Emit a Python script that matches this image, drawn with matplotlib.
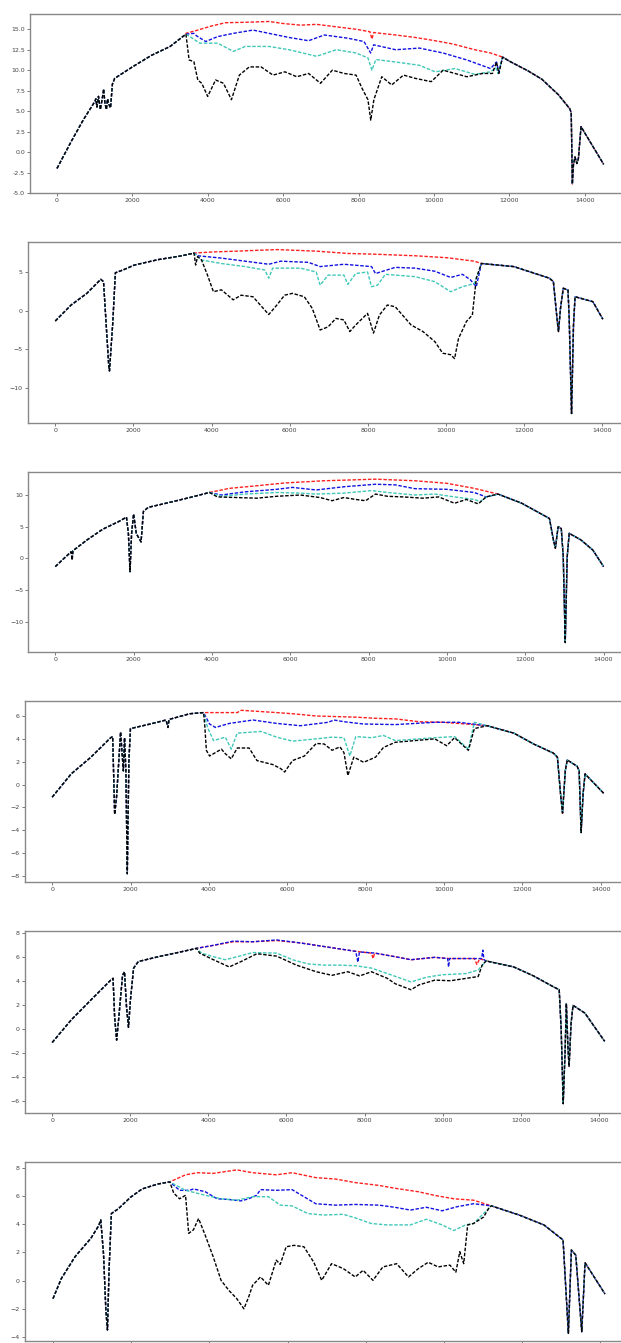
import matplotlib
matplotlib.use("Agg")
import matplotlib.pyplot as plt

# ---------------- panel 1 ----------------
p1_left = [(0, -2.0), (378, 1.3), (693, 3.9), (1007, 6.2), (1030, 6.5), (1060, 5.5), (1100, 6.8),
           (1150, 5.2), (1200, 6.5), (1238, 7.7), (1270, 6.0), (1310, 5.2), (1340, 6.5), (1380, 5.8),
           (1420, 5.4), (1470, 8.3), (1530, 9.0), (2000, 10.4), (2500, 11.8), (3000, 12.9), (3420, 14.4)]
p1_red = [(3420, 14.5), (3735, 14.9), (4100, 15.4), (4470, 15.8), (5000, 15.85), (5624, 15.95), (6000, 15.7),
          (6464, 15.5), (6884, 15.6), (7400, 15.3), (7933, 15.0), (8300, 14.7), (8353, 13.8), (8400, 14.6),
          (8982, 14.3), (9500, 14.0), (10031, 13.6), (10500, 13.2), (11080, 12.5), (11500, 12.1), (11820, 11.6)]
p1_blue = [(3420, 14.4), (3630, 14.5), (3700, 14.2), (3945, 13.5), (4260, 14.1), (4680, 14.5), (5200, 14.9),
           (5624, 14.5), (6150, 14.0), (6674, 13.6), (7094, 14.3), (7723, 13.9), (8143, 13.5), (8320, 12.1),
           (8400, 13.1), (8982, 12.5), (9612, 12.7), (10241, 12.1), (10871, 11.25), (11500, 10.2),
           (11657, 11.0), (11720, 9.8), (11820, 11.6)]
p1_cyan = [(3420, 14.4), (3525, 14.1), (3787, 13.3), (4260, 13.3), (4680, 12.3), (4995, 12.9), (5624, 12.9),
           (6150, 12.5), (6884, 11.7), (7408, 12.5), (7933, 12.1), (8248, 11.5), (8353, 10.0), (8457, 11.3),
           (8982, 11.0), (9612, 10.6), (10031, 9.8), (10556, 10.2), (11080, 9.5), (11500, 9.8),
           (11640, 10.3), (11700, 9.6), (11820, 11.6)]
p1_black = [(3420, 14.4), (3504, 11.25), (3630, 11.05), (3735, 8.8), (3840, 8.4), (3997, 6.8), (4207, 8.8),
            (4416, 8.4), (4627, 6.4), (4837, 9.4), (5100, 10.4), (5414, 10.4), (5730, 9.4), (6045, 9.8),
            (6360, 9.2), (6674, 9.6), (6989, 8.4), (7303, 10.0), (7618, 9.6), (7933, 9.4), (8090, 7.8),
            (8248, 6.4), (8322, 3.9), (8405, 6.4), (8615, 9.2), (8877, 8.2), (9192, 9.4), (9507, 9.0),
            (9927, 8.6), (10241, 10.0), (10871, 9.2), (11290, 9.6), (11552, 9.6), (11657, 11.0),
            (11720, 9.6), (11820, 11.6)]
p1_right = [(11820, 11.6), (12000, 11.1), (12500, 9.9), (12860, 8.9), (13300, 7.0), (13600, 5.3),
            (13640, 4.8), (13670, -3.9), (13700, -1.5), (13740, -0.6), (13790, -1.4), (13830, -0.8),
            (13900, 3.1), (14500, -1.5)]

# ---------------- panel 2 ----------------
p2_left = [(0, -1.34), (405, 0.73), (809, 2.24), (1163, 4.05), (1234, 3.75), (1366, -7.0), (1386, -7.8),
           (1467, -1.85), (1538, 4.9), (1750, 5.3), (2023, 5.9), (2630, 6.6), (3237, 7.1), (3550, 7.45)]
p2_red = [(3550, 7.45), (4046, 7.6), (4653, 7.7), (5665, 7.9), (6676, 7.7), (7485, 7.4), (8193, 7.3),
          (9205, 7.1), (10014, 6.85), (10722, 6.4), (10904, 6.1)]
p2_blue = [(3550, 7.45), (3641, 7.1), (4249, 6.8), (4855, 6.4), (5462, 6.0), (5766, 6.4), (6474, 6.25),
           (6777, 5.7), (7384, 6.0), (8092, 5.7), (8193, 4.8), (8699, 5.6), (9205, 5.5), (9711, 5.1),
           (10116, 4.3), (10419, 4.7), (10621, 4.0), (10773, 3.1), (10904, 6.1)]
p2_cyan = [(3550, 7.45), (3742, 6.55), (4249, 6.1), (4855, 5.7), (5361, 5.26), (5462, 4.2), (5563, 5.5),
           (6271, 5.5), (6676, 5.0), (6777, 3.3), (6979, 4.6), (7384, 4.6), (7485, 3.4), (7687, 4.8),
           (7990, 5.0), (8092, 3.1), (8244, 3.3), (8446, 4.7), (9205, 4.4), (9711, 3.75), (10116, 2.45),
           (10419, 3.1), (10722, 3.5), (10904, 6.1)]
p2_black = [(3550, 7.45), (3591, 5.9), (3641, 7.0), (3742, 6.55), (3894, 4.6), (4046, 2.45), (4249, 2.7),
            (4552, 1.4), (4754, 2.0), (5058, 1.8), (5462, -0.5), (5665, 0.7), (5867, 2.0), (6069, 2.24),
            (6372, 1.8), (6575, 0.3), (6777, -2.5), (6979, -2.1), (7181, -1.0), (7384, -1.2), (7536, -2.7),
            (7687, -1.85), (7990, -0.35), (8142, -2.9), (8294, -0.56), (8497, 0.73), (8699, 0.5),
            (9104, -1.85), (9407, -2.7), (9711, -4.0), (9913, -5.5), (10116, -5.7), (10217, -6.2),
            (10318, -3.6), (10520, -1.4), (10672, -0.56), (10773, 4.2), (10904, 6.1)]
p2_right = [(10904, 6.1), (11734, 5.7), (12644, 4.2), (12745, 3.75), (12846, -1.4), (12876, -2.7),
            (12927, 0.3), (12998, 2.9), (13119, 2.67), (13150, -1.0), (13210, -13.3), (13260, -1.85),
            (13300, 1.8), (13756, 1.16), (14010, -1.1)]

# ---------------- panel 3 ----------------
p3_left = [(0, -1.3), (404, 1.05), (430, -0.26), (450, 1.2), (808, 2.9), (1211, 4.6), (1615, 5.8),
           (1817, 6.5), (1867, 3.9), (1908, -2.1), (1948, 3.9), (1999, 7.0), (2069, 3.9), (2190, 2.6),
           (2250, 7.4), (2372, 8.05), (2826, 8.7), (3432, 9.6), (3937, 10.4)]
p3_red = [(3937, 10.4), (4441, 11.05), (5047, 11.4), (5854, 11.9), (6864, 12.25), (8176, 12.5),
          (9185, 12.25), (9993, 11.85), (10700, 11.05), (11305, 10.15)]
p3_blue = [(3937, 10.4), (4239, 10.0), (4845, 10.5), (5652, 10.9), (6056, 11.2), (6662, 10.8), (7368, 11.3),
           (8176, 11.7), (8680, 11.6), (9185, 11.0), (9993, 10.9), (10700, 10.4), (11002, 9.7), (11305, 10.15)]
p3_cyan = [(3937, 10.4), (4239, 9.8), (4845, 10.15), (5652, 10.4), (6258, 10.3), (6662, 10.15), (7368, 10.3),
           (8075, 10.7), (8479, 10.4), (9185, 10.0), (9690, 10.15), (10195, 9.7), (10700, 9.3),
           (10851, 8.95), (11002, 9.7), (11305, 10.15)]
p3_black = [(3937, 10.4), (4138, 9.7), (4643, 9.6), (5148, 9.5), (5652, 9.8), (6258, 10.0), (6763, 9.6),
            (7066, 9.1), (7368, 9.6), (7671, 9.3), (7923, 9.1), (8176, 10.15), (8479, 9.8), (8882, 9.7),
            (9387, 9.5), (9791, 9.7), (10195, 8.7), (10498, 9.3), (10801, 8.6), (11002, 9.7), (11305, 10.15)]
p3_right = [(11305, 10.15), (11911, 8.7), (12618, 6.3), (12719, 2.9), (12770, 1.6), (12840, 5.0),
            (12921, 4.7), (12971, 0.26), (13022, -13.3), (13072, 0.26), (13123, 3.95), (13426, 2.9),
            (13728, 1.3), (14000, -1.3)]

# ---------------- panel 4 ----------------
p4_left = [(0, -1.1), (484, 0.93), (988, 2.4), (1493, 4.1), (1543, 4.2), (1594, -2.6), (1644, -1.0),
           (1745, 4.6), (1816, 1.2), (1846, 4.1), (1880, 1.2), (1916, -7.8), (1957, 2.1), (1997, 4.9),
           (2501, 5.3), (2905, 5.65), (2955, 5.0), (2980, 5.7), (3510, 6.2), (3863, 6.3)]
p4_red = [(3863, 6.3), (4721, 6.3), (4822, 6.5), (5729, 6.3), (6132, 6.2), (6738, 6.0), (7242, 5.95),
          (7746, 5.9), (8251, 5.8), (8755, 5.75), (9360, 5.5), (9965, 5.45), (10570, 5.3), (11097, 5.15)]
p4_blue = [(3863, 6.3), (4015, 5.3), (4166, 5.0), (4519, 5.35), (5124, 5.65), (5729, 5.35), (6334, 5.15),
           (7040, 5.45), (7191, 5.65), (7444, 5.5), (7948, 5.3), (8755, 5.25), (9763, 5.45), (10368, 5.45),
           (11097, 5.15)]
p4_cyan = [(3863, 6.3), (3964, 5.0), (4116, 3.85), (4418, 4.15), (4569, 3.1), (4721, 4.5), (5326, 4.65),
           (5729, 4.15), (6132, 3.8), (6738, 4.0), (7141, 4.15), (7444, 4.1), (7595, 2.5), (7746, 4.2),
           (8150, 4.1), (8453, 4.3), (8755, 3.85), (9763, 4.1), (10267, 4.2), (10620, 3.1), (10772, 5.45),
           (11097, 5.15)]
p4_black = [(3863, 6.3), (3893, 5.15), (3934, 3.0), (4015, 2.5), (4317, 3.1), (4418, 2.7), (4569, 2.25),
            (4721, 3.2), (5024, 3.2), (5225, 2.1), (5628, 1.75), (5830, 1.4), (5931, 1.1), (6132, 2.1),
            (6435, 2.5), (6738, 3.6), (6940, 3.55), (7141, 3.0), (7343, 3.3), (7444, 2.8), (7545, 0.8),
            (7696, 2.4), (7948, 1.95), (8251, 2.4), (8453, 3.25), (8755, 3.7), (9259, 3.85), (9763, 4.0),
            (10065, 3.4), (10267, 4.1), (10620, 3.0), (10772, 4.9), (11097, 5.15)]
p4_right = [(11097, 5.15), (11781, 4.5), (12285, 3.55), (12790, 2.75), (12891, 2.4), (12971, -0.8),
            (13022, -2.5), (13092, 1.2), (13143, 2.15), (13395, 1.6), (13446, 1.2), (13496, -4.2),
            (13547, -0.8), (13597, 0.93), (14071, -0.76)]

# ---------------- panel 5 ----------------
p5_left = [(0, -1.1), (486, 0.78), (992, 2.45), (1498, 4.1), (1559, 4.25), (1599, 1.05), (1650, -0.9),
           (1700, 0.78), (1802, 4.5), (1852, 4.8), (1903, 1.9), (1954, 0.17), (2004, 2.45), (2085, 5.1),
           (2207, 5.65), (2713, 6.05), (3219, 6.4), (3700, 6.75)]
p5_red = [(3700, 6.75), (4130, 7.0), (4636, 7.3), (5142, 7.3), (5750, 7.4), (6357, 7.2), (6762, 7.0),
          (7268, 6.75), (7774, 6.5), (8178, 6.35), (8220, 5.9), (8260, 6.35), (8786, 6.05), (9190, 5.8),
          (9799, 6.0), (10153, 5.9), (10811, 5.9), (10880, 5.4), (10950, 5.9), (11114, 5.7)]
p5_blue = [(3700, 6.75), (4130, 7.0), (4636, 7.35), (5142, 7.3), (5750, 7.45), (6357, 7.2), (6762, 7.0),
           (7268, 6.75), (7774, 6.5), (7830, 5.6), (7870, 6.45), (8280, 6.35), (8786, 6.05), (9190, 5.8),
           (9799, 6.0), (10130, 5.9), (10153, 5.2), (10180, 5.9), (10811, 5.9), (11000, 5.9), (11030, 6.6),
           (11060, 5.8), (11114, 5.7)]
p5_cyan = [(3700, 6.75), (3826, 6.35), (4130, 6.05), (4434, 5.8), (4737, 6.05), (5142, 6.4), (5750, 6.35),
           (6155, 5.8), (6560, 5.45), (6965, 5.35), (7370, 5.35), (7774, 5.3), (8178, 5.1), (8583, 4.65),
           (9190, 3.95), (9596, 4.35), (10001, 4.55), (10609, 4.65), (10912, 4.95), (11114, 5.7)]
p5_black = [(3700, 6.75), (3776, 6.35), (4130, 5.8), (4535, 5.2), (4838, 5.65), (5243, 6.3), (5750, 6.1),
            (6256, 5.35), (6762, 4.8), (7167, 4.5), (7572, 4.8), (7875, 4.45), (8178, 4.8), (8583, 4.25),
            (8786, 3.8), (9190, 3.3), (9393, 3.7), (9799, 4.1), (10204, 4.05), (10609, 4.25), (10912, 4.4),
            (11013, 5.35), (11114, 5.7)]
p5_right = [(11114, 5.7), (11823, 5.2), (12329, 4.45), (12835, 3.55), (12987, 3.3), (13038, -0.05),
            (13089, -6.2), (13139, -1.7), (13170, 2.15), (13210, -1.45), (13240, -3.1), (13291, 0.5),
            (13341, 2.0), (13645, 1.35), (14151, -1.0)]

# ---------------- panel 6 ----------------
p6_left = [(0, -1.28), (212, 0.14), (565, 1.7), (969, 3.0), (1170, 3.9), (1221, 4.3), (1292, 1.9),
           (1352, -2.1), (1393, -3.5), (1433, 0.7), (1493, 4.75), (1675, 5.1), (1978, 5.9), (2280, 6.5),
           (2684, 6.85), (2987, 7.0)]
p6_red = [(2987, 7.0), (3390, 7.5), (3693, 7.65), (4096, 7.6), (4701, 7.85), (5105, 7.65), (5710, 7.5),
          (6114, 7.65), (6720, 7.3), (7225, 7.2), (7729, 6.95), (8335, 6.75), (8739, 6.55), (9344, 6.3),
          (9748, 6.05), (10252, 5.8), (10757, 5.7), (11211, 5.3)]
p6_blue = [(2987, 7.0), (3238, 6.4), (3491, 6.4), (3592, 6.5), (3895, 6.3), (4197, 5.8), (4500, 5.75),
           (4802, 5.65), (5004, 5.8), (5206, 6.05), (5307, 6.45), (5710, 6.4), (6114, 6.45), (6417, 5.95),
           (6720, 5.45), (7225, 5.35), (7729, 5.4), (8335, 5.35), (8739, 5.2), (9142, 5.0), (9546, 5.2),
           (9950, 4.95), (10353, 5.25), (10757, 5.45), (11211, 5.3)]
p6_cyan = [(2987, 7.0), (3390, 6.4), (3895, 6.05), (4298, 5.8), (4701, 5.7), (5105, 5.95), (5509, 5.95),
           (5811, 5.35), (6114, 5.3), (6518, 4.75), (6921, 4.65), (7426, 4.7), (7729, 4.45), (8133, 4.05),
           (8537, 3.95), (9142, 3.95), (9546, 4.35), (9950, 3.95), (10252, 3.55), (10555, 3.95),
           (10757, 4.05), (11010, 4.75), (11211, 5.3)]
p6_black = [(2987, 7.0), (3088, 6.2), (3238, 5.8), (3390, 6.05), (3470, 3.35), (3592, 3.6), (3723, 4.4),
            (3895, 3.2), (4096, 1.7), (4298, 0.02), (4500, -0.7), (4701, -1.28), (4883, -2.0), (5004, -1.16),
            (5105, -0.33), (5307, 0.26), (5509, -0.33), (5710, 1.45), (5811, 1.15), (5963, 2.4), (6165, 2.5),
            (6417, 2.4), (6670, 1.3), (6872, 0.02), (7124, 1.2), (7426, 0.85), (7729, 0.26), (7931, 0.73),
            (8183, 0.02), (8436, 0.97), (8789, 1.2), (9092, 0.26), (9344, 0.85), (9596, 1.3), (9849, 0.97),
            (10151, 1.1), (10303, 0.6), (10404, 2.05), (10504, 1.2), (10605, 3.95), (10757, 4.05),
            (11010, 4.5), (11161, 5.2), (11211, 5.3)]
p6_right = [(11211, 5.3), (11922, 4.65), (12560, 3.94), (13045, 2.88), (13181, -3.74), (13258, 2.17),
            (13370, 1.8), (13523, -3.62), (13607, 1.27), (14118, -0.95)]

panels = [
    (p1_left, p1_red, p1_blue, p1_cyan, p1_black, p1_right),
    (p2_left, p2_red, p2_blue, p2_cyan, p2_black, p2_right),
    (p3_left, p3_red, p3_blue, p3_cyan, p3_black, p3_right),
    (p4_left, p4_red, p4_blue, p4_cyan, p4_black, p4_right),
    (p5_left, p5_red, p5_blue, p5_cyan, p5_black, p5_right),
    (p6_left, p6_red, p6_blue, p6_cyan, p6_black, p6_right),
]

# layout in pixels: x of 0, px per 1000, xlim, top, bottom, ylim, yticks
layout = [
    (57.0, 37.7, (-723, 15183), 13.7, 193.0, (-5.0, 16.9), [-5.0, -2.5, 0.0, 2.5, 5.0, 7.5, 10.0, 12.5, 15.0]),
    (55.3, 39.08, (-706, 14810), 241.7, 423.3, (-14.57, 8.92), [-10, -5, 0, 5]),
    (55.3, 39.16, (-700, 14700), 471.7, 652.0, (-14.78, 13.68), [-10, -5, 0, 5, 10]),
    (52.2, 39.19, (-703, 14775), 700.7, 881.7, (-8.5, 7.34), [-8, -6, -4, -2, 0, 2, 4, 6]),
    (52.2, 39.04, (-708, 14860), 930.7, 1113.3, (-7.0, 8.22), [-6, -4, -2, 0, 2, 4, 6, 8]),
    (53.0, 39.1, (-725, 14824), 1161.7, 1340.7, (-4.26, 8.43), [-4, -2, 0, 2, 4, 6, 8]),
]

W, H = 621, 1343
fig = plt.figure(figsize=(W / 100, H / 100), dpi=100)

styles = ["#ff2020", "#1010e0", "#40c8b8", "black"]

for i, ((left, red, blue, cyan, black, right), (x0, sx, xl, top, bot, yl, yt)) in enumerate(zip(panels, layout)):
    lpx = x0 + xl[0] * sx / 1000
    rpx = x0 + xl[1] * sx / 1000
    ax = fig.add_axes([lpx / W, 1 - bot / H, (rpx - lpx) / W, (bot - top) / H])
    for mid, col in zip([red, blue, cyan, black], styles):
        pts = left + mid + right
        xs = [p[0] for p in pts]
        ys = [p[1] for p in pts]
        ax.plot(xs, ys, color=col, linestyle="--", linewidth=1.0, dashes=(2.5, 1.2))
    ax.set_xlim(*xl)
    ax.set_ylim(*yl)
    ax.set_xticks(range(0, 14001, 2000))
    ax.set_yticks(yt)
    if isinstance(yt[0], float):
        ax.set_yticklabels([f"{v:.1f}" for v in yt])
    ax.tick_params(labelsize=4.5, length=2, width=0.5, pad=1.5, colors="#444444")
    if i == len(panels) - 1:
        # last panel's x labels fall below the screenshot edge
        ax.tick_params(axis="x", labelbottom=False)
    for sp in ax.spines.values():
        sp.set_color("#888888")
        sp.set_linewidth(1.0)

fig.savefig("out.png", dpi=100)
